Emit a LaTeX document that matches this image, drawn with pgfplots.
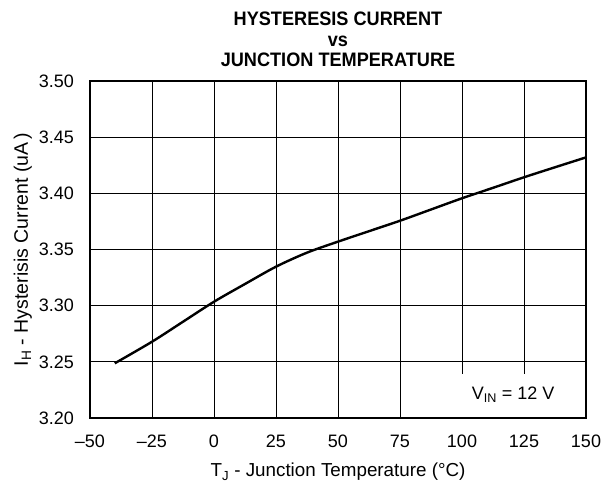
\documentclass[border=0pt]{standalone}
\usepackage{fontspec}
\setmainfont{Liberation Sans}
\newfontfamily\titlefont[FakeStretch=0.93]{Liberation Sans}
\usepackage{pgfplots}
\pgfplotsset{compat=1.18}
\begin{document}
\begin{tikzpicture}
\useasboundingbox (-90pt,-69pt) rectangle (523pt,418pt);
\begin{axis}[
  at={(0pt,0pt)}, anchor=south west,
  scale only axis, width=496pt, height=337pt,
  xmin=-50, xmax=150, ymin=3.2, ymax=3.5,
  xtick={-50,-25,0,25,50,75,100,125,150},
  xticklabels={--50,--25,0,25,50,75,100,125,150},
  ytick={3.2,3.25,3.3,3.35,3.4,3.45,3.5},
  yticklabels={3.20,3.25,3.30,3.35,3.40,3.45,3.50},
  major tick length=0pt,
  grid=major,
  grid style={black, line width=0.8pt},
  axis line style={black, line width=2pt},
  tick label style={font=\fontsize{18}{20}\selectfont},
  xticklabel style={anchor=base, inner sep=0pt, yshift=-29pt},
  yticklabel style={anchor=east, inner sep=0pt, xshift=-16pt},
  xlabel={T\textsubscript{J} - Junction Temperature (°C)},
  ylabel={I\textsubscript{H} - Hysterisis Current (uA\,)},
  xlabel style={font=\fontsize{18.8}{21}\selectfont, at={(axis description cs:0.5,-0.175)}, anchor=base, inner sep=0pt},
  ylabel style={font=\fontsize{19.5}{21}\selectfont, at={(axis description cs:-0.125,0.5)}, anchor=base, inner sep=0pt, rotate=0},
  title={HYSTERESIS CURRENT\\vs\\JUNCTION TEMPERATURE},
  title style={align=center, font=\titlefont\bfseries\fontsize{19.5}{20.5}\selectfont, at={(axis description cs:0.5,1)}, anchor=south, inner sep=0pt, yshift=8pt},
]
\addplot[black, line width=2.4pt, smooth] coordinates {
(-40,3.2487) (-25,3.2679) (-12.5,3.2857) (0,3.3035) (12.5,3.3193) (25,3.3347)
(37.5,3.3472) (50,3.3570) (62.5,3.3663) (75,3.3756) (87.5,3.3856) (100,3.3956)
(112.5,3.4049) (125,3.4143) (137.5,3.4232) (150,3.4320)
};
\fill[white] (axis cs:96.4,3.2) rectangle (axis cs:150,3.239);
\draw[black, line width=2pt] (rel axis cs:0,0) rectangle (rel axis cs:1,1);
\node[font=\fontsize{18}{20}\selectfont] at (axis cs:120.6,3.2205) {V\textsubscript{IN} = 12 V};
\end{axis}
\end{tikzpicture}
\end{document}
